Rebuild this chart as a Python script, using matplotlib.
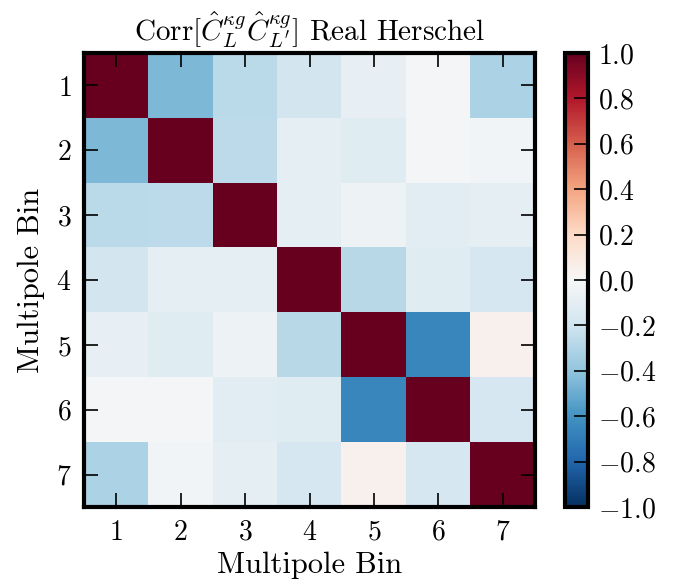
import numpy as np
import matplotlib
matplotlib.use("Agg")
import matplotlib.pyplot as plt

plt.rcParams['font.family'] = 'serif'
plt.rcParams['font.serif'] = ['cmr10']
plt.rcParams['mathtext.fontset'] = 'cm'
plt.rcParams['axes.formatter.use_mathtext'] = True
plt.rcParams['axes.unicode_minus'] = True

bins = [1, 2, 3, 4, 5, 6, 7]

# upper triangle of the correlation matrix
row1 = [1.00, -0.45, -0.27, -0.18, -0.08, -0.01, -0.32]
row2 = [-0.45, 1.00, -0.26, -0.09, -0.12, -0.02, -0.03]
row3 = [-0.27, -0.26, 1.00, -0.09, -0.05, -0.11, -0.10]
row4 = [-0.18, -0.09, -0.09, 1.00, -0.28, -0.12, -0.17]
row5 = [-0.08, -0.12, -0.05, -0.28, 1.00, -0.65, 0.04]
row6 = [-0.01, -0.02, -0.11, -0.12, -0.65, 1.00, -0.17]
row7 = [-0.32, -0.03, -0.10, -0.17, 0.04, -0.17, 1.00]
corr = np.array([row1, row2, row3, row4, row5, row6, row7])

fig = plt.figure(figsize=(6.89, 5.87), dpi=100)
ax = fig.add_axes([84/689, 1-507/587, 451/689, 454/587])
cax = fig.add_axes([565/689, 1-507/587, 23/689, 454/587])

im = ax.imshow(corr, cmap='RdBu_r', vmin=-1, vmax=1, interpolation='nearest',
               extent=[0.5, 7.5, 7.5, 0.5], aspect='auto')
ax.set_xticks(bins)
ax.set_yticks(bins)
ax.tick_params(direction='in', length=10, width=1.2, top=True, right=True,
               labelsize=20, pad=9)
for s in ax.spines.values():
    s.set_linewidth(3)
ax.set_xlabel('Multipole Bin', fontsize=22, labelpad=4)
ax.set_ylabel('Multipole Bin', fontsize=22, labelpad=8)
ax.set_title(r'Corr$[\hat{C}_L^{\kappa g}\hat{C}_{L^\prime}^{\kappa g}]$ Real Herschel',
             fontsize=21, pad=9)

cb = fig.colorbar(im, cax=cax, ticks=np.linspace(-1, 1, 11))
cb.outline.set_linewidth(3)
cax.tick_params(direction='in', length=10, width=1.2, labelsize=20, pad=7)
cax.yaxis.set_major_formatter(matplotlib.ticker.FormatStrFormatter(r'$%.1f$'))

fig.savefig('out.png', dpi=100)
